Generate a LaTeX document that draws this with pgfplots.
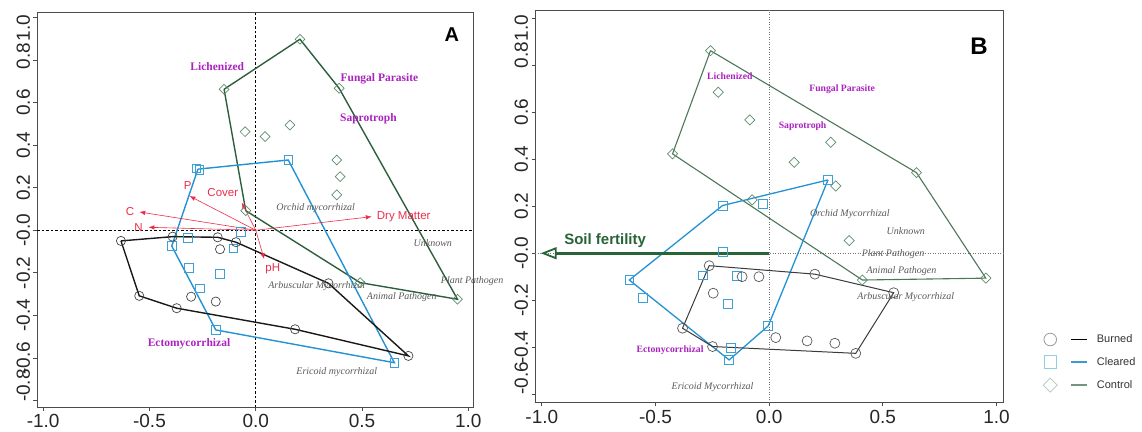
\documentclass[border=0pt]{standalone}
\usepackage{fontspec}
\setmainfont{Liberation Serif}
\setsansfont{Liberation Sans}
\usepackage{pgfplots}
\pgfplotsset{compat=1.18}
\usetikzlibrary{arrows.meta}

\definecolor{burnpt}{RGB}{70,70,70}
\definecolor{burnln}{RGB}{25,25,25}
\definecolor{clearpt}{RGB}{60,160,215}
\definecolor{clearln}{RGB}{35,145,210}
\definecolor{ctrlpt}{RGB}{95,140,110}
\definecolor{ctrlln}{RGB}{45,95,60}
\definecolor{arrred}{RGB}{235,45,75}
\definecolor{guild}{RGB}{170,35,190}
\definecolor{soil}{RGB}{40,100,55}

\pgfplotsset{rstyle/.style={
  scale only axis, clip=false,
  axis line style={black!70, line width=0.8pt},
  tick pos=left, tick align=outside, major tick length=3.5pt,
  tick style={black!70, line width=0.8pt},
  xtick={-1,-0.5,0,0.5,1}, xticklabels={-1.0,-0.5,0.0,0.5,1.0},
  ticklabel style={font=\fontsize{19}{19}\selectfont\sffamily, text=black!85},
  yticklabel style={rotate=90, anchor=south},
}}
\tikzset{
  guildA/.style={font=\fontsize{11.5}{12}\selectfont\bfseries, text=guild, inner sep=0pt},
  guildB/.style={font=\fontsize{9.7}{10}\selectfont\bfseries, text=guild, inner sep=0pt},
  itl/.style={font=\fontsize{10}{10}\selectfont\itshape, text=black!65, inner sep=0pt},
  envl/.style={font=\fontsize{11.5}{12}\selectfont\sffamily, text=arrred, inner sep=0pt},
  envarr/.style={arrred, line width=0.6pt, -{Latex[length=6pt,width=4.5pt]}},
}

\begin{document}
\begin{tikzpicture}
\useasboundingbox (0pt,0pt) rectangle (1142pt,431pt);

% ---------------- Panel A ----------------
\begin{axis}[rstyle, at={(37pt,24pt)}, anchor=south west,
  width=436pt, height=395pt,
  xmin=-1.029, xmax=1.022, ymin=-0.83, ymax=1.025,
  ytick={-0.8,-0.6,-0.4,-0.2,0,0.2,0.4,0.6,0.8,1.0},
  yticklabels={\hspace*{30pt}-0.8,-0.6,-0.4,-0.2,-0.0,0.2,0.4,0.6,\hspace*{8pt}0.8,1.0\hspace*{22pt}},
]
\draw[black, line width=0.6pt, dash pattern=on 2.5pt off 2pt] (axis cs:0,-0.83) -- (axis cs:0,1.025);
\draw[black, line width=0.6pt, dash pattern=on 2.5pt off 2pt] (axis cs:-1.029,0) -- (axis cs:1.022,0);

% hulls
\addplot[ctrlln, line width=1.4pt, forget plot] coordinates {(-0.149,0.662) (0.208,0.897) (0.392,0.667) (0.949,-0.324) (0.491,-0.246) (-0.047,0.092) (-0.149,0.662)};
\addplot[clearln, line width=1.4pt, forget plot] coordinates {(-0.272,0.287) (0.153,0.330) (0.652,-0.622) (-0.188,-0.468) (-0.395,-0.074) (-0.272,0.287)};
\addplot[burnln, line width=1.4pt, forget plot] coordinates {(-0.634,-0.050) (-0.391,-0.030) (-0.179,-0.033) (-0.093,-0.056) (0.342,-0.249) (0.718,-0.590) (0.185,-0.465) (-0.372,-0.366) (-0.548,-0.308) (-0.634,-0.050)};

% points
\addplot[only marks, mark=square, mark size=3.5pt, mark options={ctrlpt, line width=0.7pt, rotate=45}, forget plot] table {
x y
-0.149 0.662
0.208 0.897
0.392 0.667
0.949 -0.324
0.491 -0.246
-0.047 0.092
-0.050 0.463
0.044 0.440
0.161 0.494
0.381 0.330
0.397 0.252
0.381 0.166
};
\addplot[only marks, mark=square, mark size=4.2pt, mark options={clearpt, line width=0.8pt}, forget plot] table {
x y
-0.278 0.291
-0.265 0.283
0.153 0.330
0.652 -0.622
-0.188 -0.468
-0.395 -0.074
-0.320 -0.035
-0.069 -0.007
-0.105 -0.085
-0.314 -0.176
-0.168 -0.205
-0.262 -0.272
};
\addplot[only marks, mark=o, mark size=4.6pt, mark options={burnpt, line width=0.7pt}, forget plot] table {
x y
-0.634 -0.050
-0.391 -0.030
-0.179 -0.033
-0.093 -0.056
-0.168 -0.089
0.342 -0.249
0.718 -0.590
0.185 -0.465
-0.372 -0.366
-0.548 -0.308
-0.304 -0.312
-0.188 -0.335
};

% environmental arrows
\addplot[envarr, forget plot] coordinates {(0,0) (-0.548,0.086)};
\addplot[envarr, forget plot] coordinates {(0,0) (-0.505,0.014)};
\addplot[envarr, forget plot] coordinates {(0,0) (-0.312,0.161)};
\addplot[envarr, forget plot] coordinates {(0,0) (-0.066,0.130)};
\addplot[envarr, forget plot] coordinates {(0,0) (0.546,0.064)};
\addplot[envarr, forget plot] coordinates {(0,0) (0.040,-0.136)};
\node[envl] at (axis cs:-0.591,0.087) {C};
\node[envl] at (axis cs:-0.552,0.014) {N};
\node[envl] at (axis cs:-0.320,0.208) {P};
\node[envl] at (axis cs:-0.155,0.178) {Cover};
\node[envl, anchor=west] at (axis cs:0.569,0.064) {Dry Matter};
\node[envl] at (axis cs:0.080,-0.180) {pH};

% guild labels
\node[guildA] at (axis cs:-0.181,0.768) {Lichenized};
\node[guildA] at (axis cs:0.582,0.710) {Fungal Parasite};
\node[guildA] at (axis cs:0.530,0.523) {Saprotroph};
\node[guildA] at (axis cs:-0.314,-0.531) {Ectomycorrhizal};
\node[itl] at (axis cs:0.282,0.106) {Orchid mycorrhizal};
\node[itl] at (axis cs:0.833,-0.058) {Unknown};
\node[itl] at (axis cs:1.018,-0.240) {Plant Pathogen};
\node[itl] at (axis cs:0.287,-0.261) {Arbuscular Mycorrhizal};
\node[itl] at (axis cs:0.687,-0.312) {Animal Pathogen};
\node[itl] at (axis cs:0.381,-0.668) {Ericoid mycorrhizal};
\node[font=\fontsize{20}{20}\selectfont\sffamily\bfseries] at (axis cs:0.922,0.917) {A};
\end{axis}

% ---------------- Panel B ----------------
\begin{axis}[rstyle, at={(535pt,28.3pt)}, anchor=south west,
  width=468.3pt, height=392.7pt,
  xmin=-1.03, xmax=1.03, ymin=-0.636, ymax=1.035,
  ytick={-0.6,-0.4,-0.2,0,0.2,0.4,0.6,0.8,1.0},
  yticklabels={\hspace*{32pt}-0.6,-0.4,-0.2,-0.0,0.2,0.4,0.6,\hspace*{20pt}0.8,1.0\hspace*{20pt}},
  legend style={at={(rel axis cs:1.084,0.102)}, anchor=west, draw=none, fill=none,
    font=\fontsize{11}{13}\selectfont\sffamily, text=black!80, row sep=9pt,
    cells={anchor=west}, inner sep=0pt,
    /tikz/every odd column/.append style={column sep=7pt}},
]
\addlegendimage{legend image code/.code={
  \draw[black!40, line width=0.8pt] (0pt,0pt) circle (6.3pt);
  \draw[black, line width=1.3pt] (21pt,0pt) -- (37pt,0pt);}}
\addlegendentry{Burned}
\addlegendimage{legend image code/.code={
  \draw[clearpt!55, line width=0.8pt] (-6.3pt,-6.3pt) rectangle (6.3pt,6.3pt);
  \draw[clearln!90, line width=1.3pt] (21pt,0pt) -- (37pt,0pt);}}
\addlegendentry{Cleared}
\addlegendimage{legend image code/.code={
  \draw[ctrlpt!50, line width=0.8pt] (0pt,7pt) -- (7pt,0pt) -- (0pt,-7pt) -- (-7pt,0pt) -- cycle;
  \draw[ctrlpt!90, line width=1.3pt] (21pt,0pt) -- (37pt,0pt);}}
\addlegendentry{Control}

\draw[black!55, line width=0.6pt, dash pattern=on 1pt off 1.5pt] (axis cs:0,-0.636) -- (axis cs:0,1.035);
\draw[black!55, line width=0.6pt, dash pattern=on 1pt off 1.5pt] (axis cs:-1.03,0) -- (axis cs:1.03,0);

% hulls
\addplot[ctrlln!85, line width=1.1pt, forget plot] coordinates {(-0.258,0.862) (0.648,0.343) (0.953,-0.106) (0.410,-0.114) (-0.425,0.423) (-0.258,0.862)};
\addplot[clearln, line width=1.3pt, forget plot] coordinates {(0.259,0.312) (-0.004,-0.309) (-0.176,-0.454) (-0.615,-0.114) (-0.205,0.203) (0.259,0.312)};
\addplot[burnln!85, line width=1.0pt, forget plot] coordinates {(-0.264,-0.053) (0.201,-0.089) (0.548,-0.168) (0.381,-0.426) (-0.249,-0.397) (-0.381,-0.319) (-0.264,-0.053)};

% points
\addplot[only marks, mark=square, mark size=3.6pt, mark options={ctrlpt, line width=0.7pt, rotate=45}, forget plot] table {
x y
-0.258 0.862
0.648 0.343
0.953 -0.106
0.410 -0.114
-0.425 0.423
-0.224 0.685
-0.085 0.567
0.271 0.472
0.110 0.387
0.293 0.286
-0.075 0.227
0.352 0.054
};
\addplot[only marks, mark=square, mark size=4.4pt, mark options={clearpt, line width=0.8pt}, forget plot] table {
x y
0.259 0.312
-0.004 -0.309
-0.176 -0.454
-0.615 -0.114
-0.205 0.203
-0.029 0.210
-0.205 0.007
-0.290 -0.094
-0.141 -0.097
-0.183 -0.216
-0.557 -0.189
-0.170 -0.402
};
\addplot[only marks, mark=o, mark size=5pt, mark options={burnpt!90, line width=0.7pt}, forget plot] table {
x y
-0.264 -0.053
0.201 -0.089
0.548 -0.168
0.381 -0.426
-0.249 -0.397
-0.381 -0.319
-0.119 -0.100
-0.045 -0.100
-0.246 -0.170
0.029 -0.359
0.167 -0.373
0.289 -0.383
};

% soil fertility arrow
\addplot[soil, line width=2.6pt, forget plot, -{Triangle[open, length=16pt, width=12pt, line width=1.8pt]}] coordinates {(0,0) (-1.005,0)};
\node[font=\fontsize{15}{15}\selectfont\sffamily\bfseries, text=soil, anchor=west, inner sep=0pt] at (axis cs:-0.902,0.054) {Soil fertility};

% guild labels
\node[guildB] at (axis cs:-0.173,0.752) {Lichenized};
\node[guildB] at (axis cs:0.321,0.698) {Fungal Parasite};
\node[guildB] at (axis cs:0.147,0.542) {Saprotroph};
\node[guildB] at (axis cs:-0.436,-0.411) {Ectonycorrhizal};
\node[itl] at (axis cs:0.355,0.166) {Orchid Mycorrhizal};
\node[itl] at (axis cs:0.601,0.096) {Unknown};
\node[itl] at (axis cs:0.545,-0.003) {Plant Pathogen};
\node[itl] at (axis cs:0.582,-0.078) {Animal Pathogen};
\node[itl] at (axis cs:0.601,-0.187) {Arbuscular Mycorrhizal};
\node[itl] at (axis cs:-0.249,-0.568) {Ericoid Mycorrhizal};
\node[font=\fontsize{24}{24}\selectfont\sffamily\bfseries] at (axis cs:0.923,0.879) {B};
\end{axis}
\end{tikzpicture}
\end{document}
